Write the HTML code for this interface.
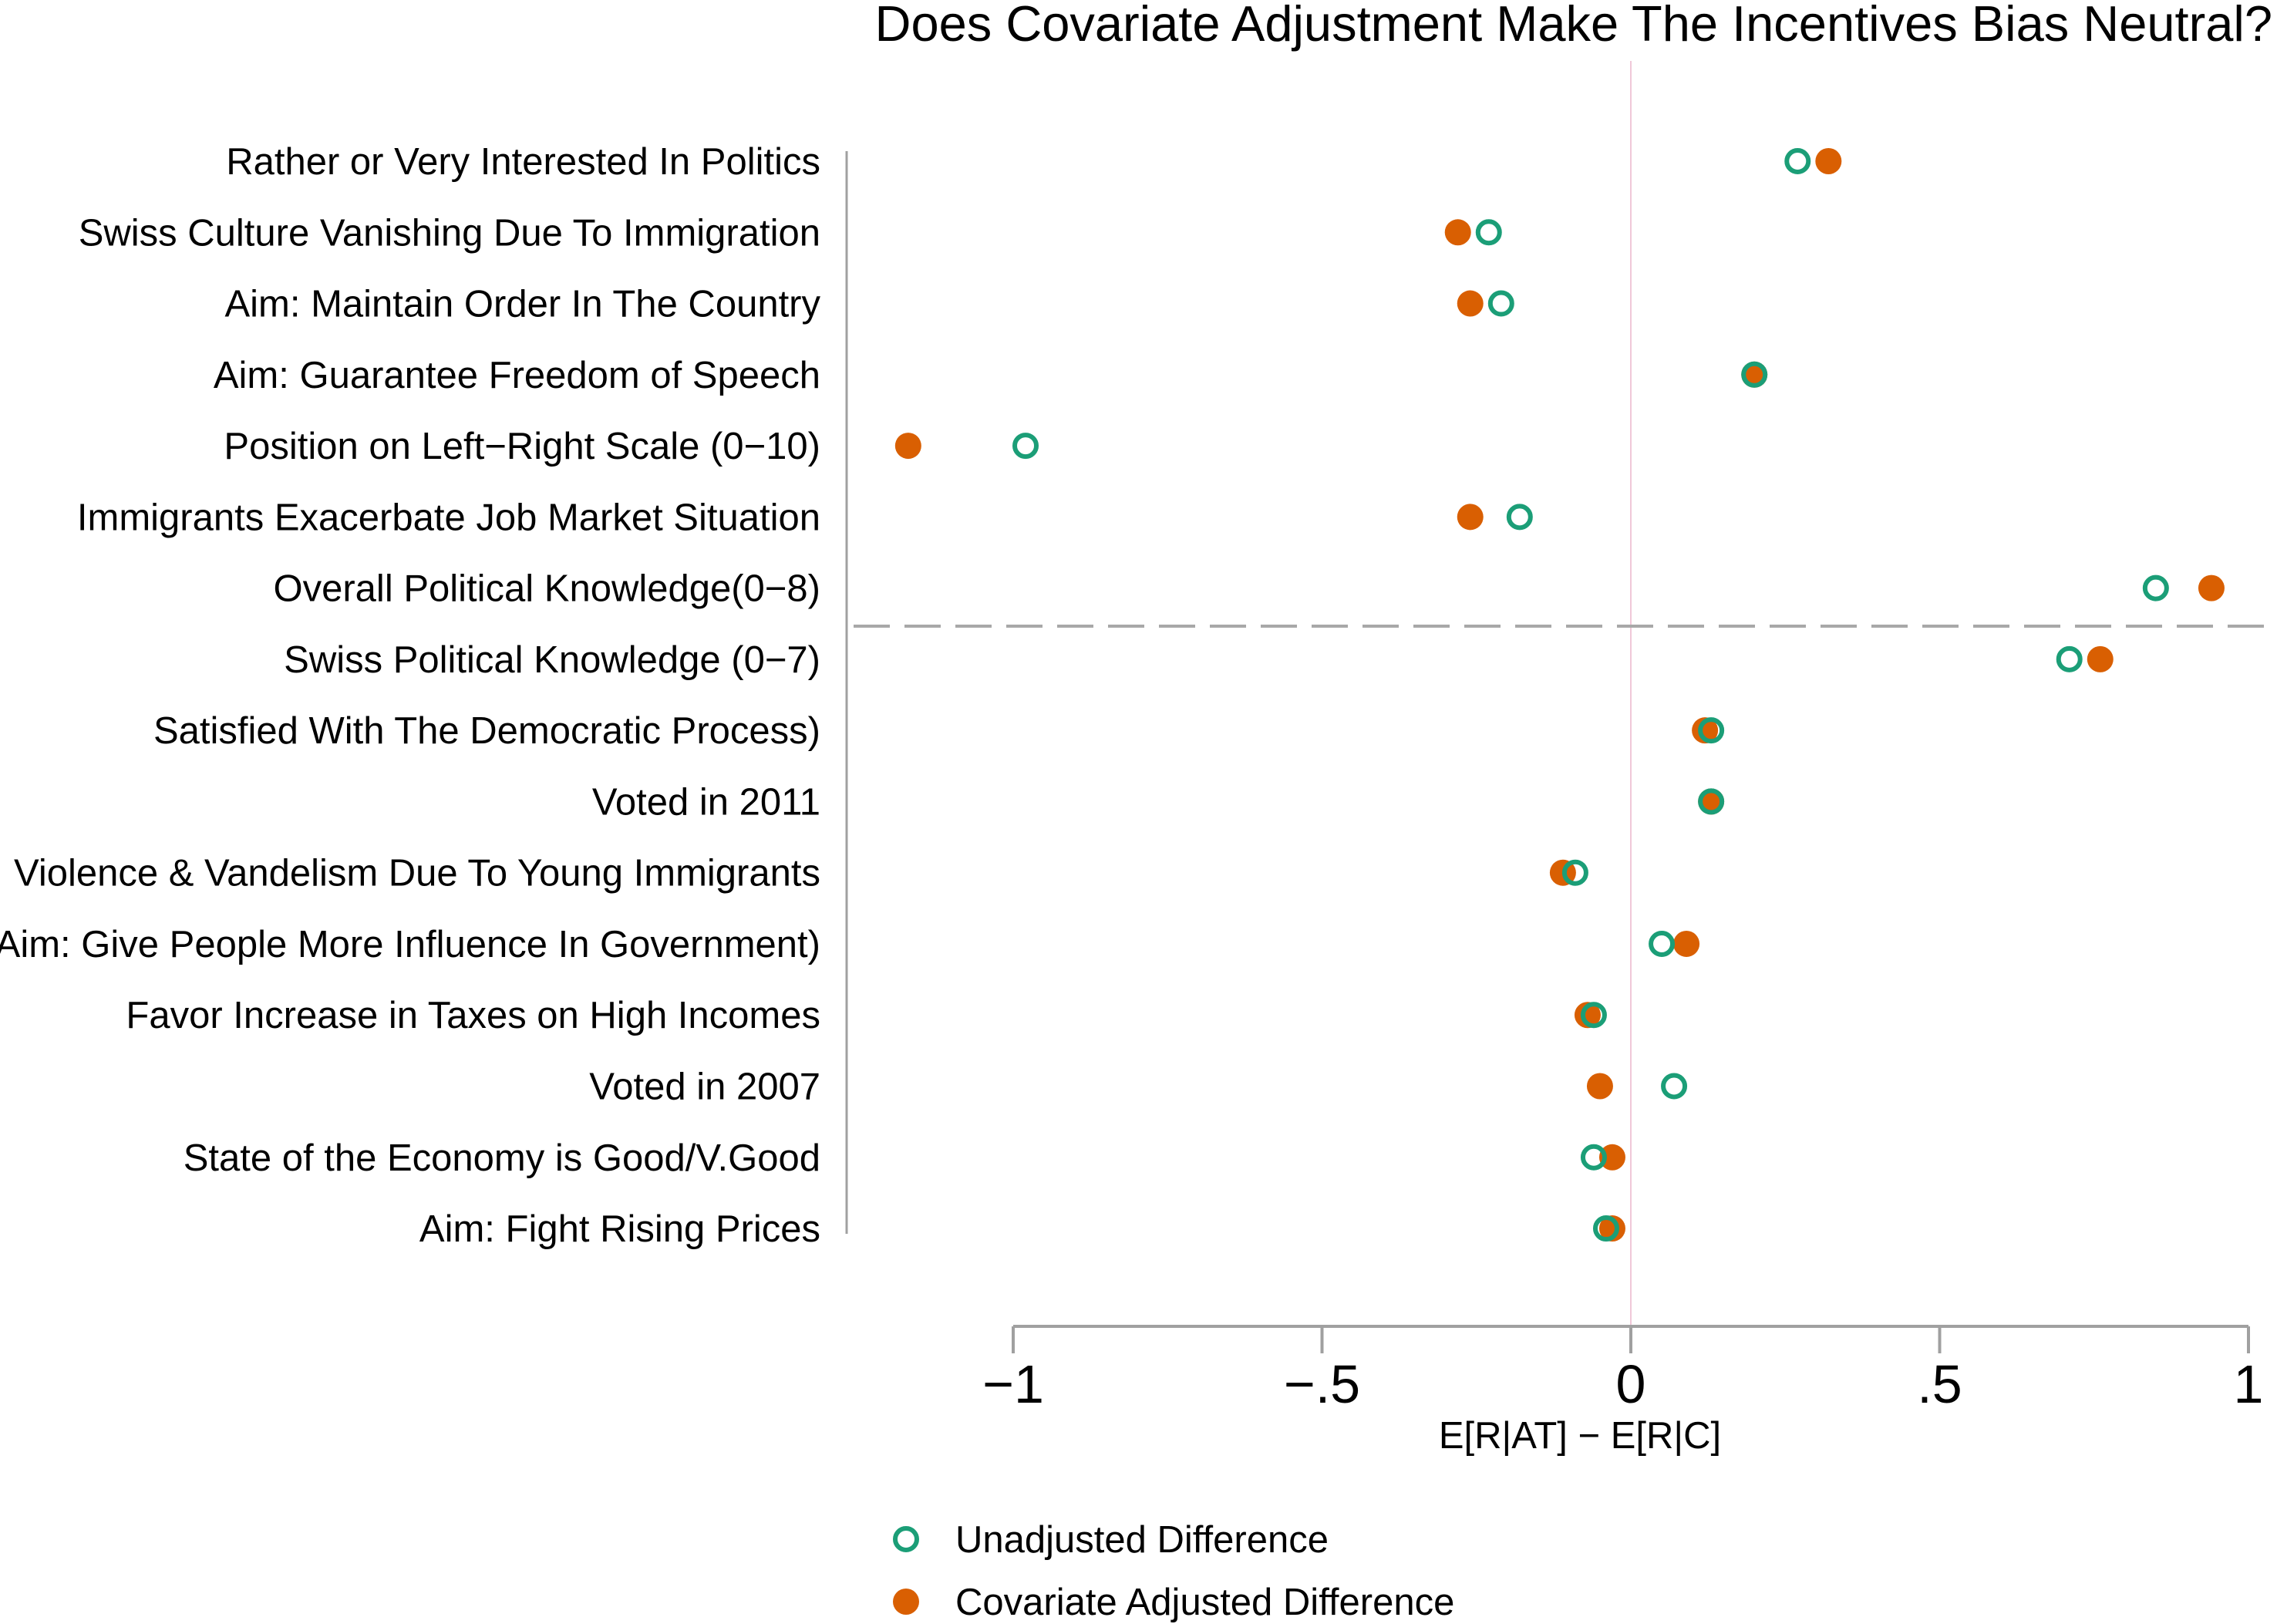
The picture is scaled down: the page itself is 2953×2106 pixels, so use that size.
<!DOCTYPE html>
<html><head><meta charset="utf-8"><style>
html,body{margin:0;padding:0;background:#fff;}
svg{display:block;font-family:"Liberation Sans",sans-serif;}
</style></head><body>
<svg id="chart" width="2953" height="2106" viewBox="0 0 2953 2106" xmlns="http://www.w3.org/2000/svg">
<rect width="2953" height="2106" fill="#fff"/>
<text x="2947" y="53" font-size="65" text-anchor="end" fill="#000">Does Covariate Adjustment Make The Incentives Bias Neutral?</text>
<g id="plot"></g>
</svg>
<script>
const categories = ["Rather or Very Interested In Politics","Swiss Culture Vanishing Due To Immigration","Aim: Maintain Order In The Country","Aim: Guarantee Freedom of Speech","Position on Left\u2212Right Scale (0\u221210)","Immigrants Exacerbate Job Market Situation","Overall Political Knowledge(0\u22128)","Swiss Political Knowledge (0\u22127)","Satisfied With The Democratic Process)","Voted in 2011","Violence & Vandelism Due To Young Immigrants","Aim: Give People More Influence In Government)","Favor Increase in Taxes on High Incomes","Voted in 2007","State of the Economy is Good/V.Good","Aim: Fight Rising Prices"];
const unadjusted = [0.27,-0.23,-0.21,0.20,-0.98,-0.18,0.85,0.71,0.13,0.13,-0.09,0.05,-0.06,0.07,-0.06,-0.04];
const adjusted = [0.32,-0.28,-0.26,0.20,-1.17,-0.26,0.94,0.76,0.12,0.13,-0.11,0.09,-0.07,-0.05,-0.03,-0.03];
const xTicks = [-1,-0.5,0,0.5,1];
const xTickLabels = ["\u22121","\u2212.5","0",".5","1"];

const NS="http://www.w3.org/2000/svg";
const g=document.getElementById('plot');
const GREEN="#1b9e77", ORANGE="#d95f02";
function xs(v){return 2115+v*801;}
function ys(i){return 209+i*92.27;}
function mk(tag,attrs){const e=document.createElementNS(NS,tag);for(const k in attrs)e.setAttribute(k,attrs[k]);g.appendChild(e);return e;}

let e;
e=mk('line',{x1:xs(0),x2:xs(0),y1:79,y2:1720,stroke:"#f0c8d8","stroke-width":2});


e=mk('line',{x1:1098,x2:1098,y1:196,y2:1600,stroke:"#a0a0a0","stroke-width":3});


e=mk('line',{x1:1107,x2:2953,y1:812,y2:812,stroke:"#a8a8a8","stroke-width":4,"stroke-dasharray":"47 19"});


e=mk('line',{x1:xs(-1),x2:xs(1),y1:1720,y2:1720,stroke:"#a0a0a0","stroke-width":4});



xTicks.forEach((t,i)=>{
  let tk=mk('line',{x1:xs(t),x2:xs(t),y1:1720,y2:1755,stroke:"#a0a0a0","stroke-width":4});
  
  
  let tl=mk('text',{x:xs(t),y:1819,"font-size":70,"text-anchor":"middle",fill:"#000"});
  tl.textContent=xTickLabels[i];
  
  
});
e=mk('text',{x:2049,y:1878,"font-size":49,"text-anchor":"middle",fill:"#000"});
e.textContent="E[R|AT] \u2212 E[R|C]";



categories.forEach((c,i)=>{
  let t=mk('text',{x:1064,y:ys(i)+17,"font-size":49,"text-anchor":"end",fill:"#000"});
  t.textContent=c;
  
  
});
adjusted.forEach((v,i)=>{
  let p=mk('circle',{cx:xs(v),cy:ys(i),r:17,fill:ORANGE});
  
  
});
unadjusted.forEach((v,i)=>{
  let p=mk('circle',{cx:xs(v),cy:ys(i),r:14,fill:"none",stroke:GREEN,"stroke-width":6});
  
  
});

e=mk('circle',{cx:1175,cy:1996,r:14,fill:"none",stroke:GREEN,"stroke-width":6});


e=mk('text',{x:1239,y:2013,"font-size":49,fill:"#000"});
e.textContent="Unadjusted Difference";


e=mk('circle',{cx:1175,cy:2077,r:17,fill:ORANGE});


e=mk('text',{x:1239,y:2094,"font-size":49,fill:"#000"});
e.textContent="Covariate Adjusted Difference";


</script>
</body></html>
